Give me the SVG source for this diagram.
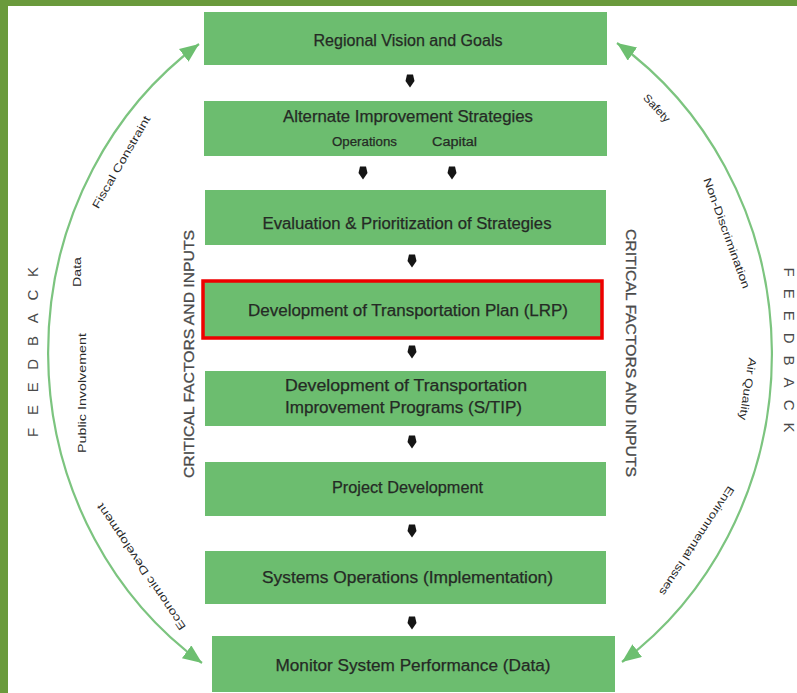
<svg xmlns="http://www.w3.org/2000/svg" width="797" height="693" viewBox="0 0 797 693">
<defs>
<style>
.box{fill:#6cbd6f}
.lbl{font-family:"Liberation Sans",Arial,sans-serif;font-size:16px;fill:#252a25;stroke:#252a25;stroke-width:0.25;text-anchor:middle;dominant-baseline:central}
.sub{font-size:12.5px}
.arc{fill:none;stroke:#7cc47f;stroke-width:2.2;marker-start:url(#ah);marker-end:url(#ah)}
.al{font-family:"Liberation Sans",Arial,sans-serif;font-size:11px;fill:#2a2a2a;text-anchor:middle;dominant-baseline:central}
.cf{font-family:"Liberation Sans",Arial,sans-serif;font-size:15px;fill:#4a4a4a;stroke:#4a4a4a;stroke-width:0.3;text-anchor:middle;dominant-baseline:central}
.fb{font-family:"Liberation Sans",Arial,sans-serif;font-size:15px;fill:#4a4a4a;text-anchor:middle;dominant-baseline:central}
.dn{fill:#151515}
</style>
<marker id="ah" markerUnits="userSpaceOnUse" markerWidth="20" markerHeight="18" refX="19" refY="8" orient="auto-start-reverse">
<path d="M0,0 L19,8 L0,16 Z" fill="#6dbf70"/>
</marker>
<path id="dar" d="M-3,-6.5 L3,-6.5 L4.5,0 L0,6.5 L-4.5,0 Z"/>
</defs>
<rect x="0" y="0" width="797" height="693" fill="#ffffff"/>
<rect x="0" y="0" width="797" height="6" fill="#6a9a3c"/>
<rect x="0" y="0" width="8" height="693" fill="#6a9a3c"/>

<g id="connectors">
<path class="arc" d="M202,663 A350 375 0 0 1 199,44"/>
<path class="arc" d="M617,43 A350 375 0 0 1 622,662"/>
<use href="#dar" class="dn" x="410" y="81"/>
<use href="#dar" class="dn" x="363" y="173"/>
<use href="#dar" class="dn" x="452" y="173"/>
<use href="#dar" class="dn" x="412" y="261"/>
<use href="#dar" class="dn" x="412" y="352"/>
<use href="#dar" class="dn" x="412" y="442"/>
<use href="#dar" class="dn" x="412" y="531"/>
<use href="#dar" class="dn" x="412" y="623"/>
</g>

<g id="n1"><rect class="box" x="204" y="12" width="403" height="53"/>
<text class="lbl" x="408" y="40" textLength="189" lengthAdjust="spacingAndGlyphs">Regional Vision and Goals</text></g>
<g id="n2"><rect class="box" x="204" y="101" width="403" height="55"/>
<text class="lbl" x="408" y="116" textLength="250" lengthAdjust="spacingAndGlyphs">Alternate Improvement Strategies</text>
<text class="lbl sub" x="364.5" y="142" textLength="65" lengthAdjust="spacingAndGlyphs">Operations</text>
<text class="lbl sub" x="454.5" y="142" textLength="45" lengthAdjust="spacingAndGlyphs">Capital</text></g>
<g id="n3"><rect class="box" x="205" y="190" width="401" height="55"/>
<text class="lbl" x="407" y="223" textLength="289" lengthAdjust="spacingAndGlyphs">Evaluation &amp; Prioritization of Strategies</text></g>
<g id="n4"><rect class="box" x="203" y="281" width="399" height="57" stroke="#ee0000" stroke-width="3.5"/>
<text class="lbl" x="408" y="310" textLength="320" lengthAdjust="spacingAndGlyphs">Development of Transportation Plan (LRP)</text></g>
<g id="n5"><rect class="box" x="205" y="371" width="401" height="55"/>
<text class="lbl" x="285" y="385" style="text-anchor:start" textLength="242" lengthAdjust="spacingAndGlyphs">Development of Transportation</text>
<text class="lbl" x="285" y="407" style="text-anchor:start" textLength="237" lengthAdjust="spacingAndGlyphs">Improvement Programs (S/TIP)</text></g>
<g id="n6"><rect class="box" x="205" y="462" width="401" height="54"/>
<text class="lbl" x="407.5" y="487" textLength="151" lengthAdjust="spacingAndGlyphs">Project Development</text></g>
<g id="n7"><rect class="box" x="205" y="551" width="401" height="53"/>
<text class="lbl" x="407.5" y="577" textLength="291" lengthAdjust="spacingAndGlyphs">Systems Operations (Implementation)</text></g>
<g id="n8"><rect class="box" x="212" y="636" width="403" height="56"/>
<text class="lbl" x="413" y="665" textLength="275" lengthAdjust="spacingAndGlyphs">Monitor System Performance (Data)</text></g>

<g id="side-labels">
<text class="cf" transform="translate(188,354) rotate(-90)" textLength="248" lengthAdjust="spacingAndGlyphs">CRITICAL FACTORS AND INPUTS</text>
<text class="cf" transform="translate(631,353) rotate(90)" textLength="248" lengthAdjust="spacingAndGlyphs">CRITICAL FACTORS AND INPUTS</text>
<text class="fb" transform="translate(32,352) rotate(-90)" textLength="170" lengthAdjust="spacing">FEEDBACK</text>
<text class="fb" transform="translate(789,350) rotate(90)" textLength="165" lengthAdjust="spacing">FEEDBACK</text>
</g>

<g id="arc-labels">
<text class="al" transform="translate(121,162) rotate(-60)" textLength="105" lengthAdjust="spacingAndGlyphs">Fiscal Constraint</text>
<text class="al" transform="translate(77,272) rotate(-90)" textLength="30" lengthAdjust="spacingAndGlyphs">Data</text>
<text class="al" transform="translate(82,393) rotate(-90)" textLength="120" lengthAdjust="spacingAndGlyphs">Public Involvement</text>
<text class="al" transform="translate(141,567) rotate(-124)" textLength="150" lengthAdjust="spacingAndGlyphs">Economic Development</text>
<text class="al" transform="translate(657,108) rotate(47)" textLength="34" lengthAdjust="spacingAndGlyphs">Safety</text>
<text class="al" transform="translate(727,233) rotate(70)" textLength="117" lengthAdjust="spacingAndGlyphs">Non-Discrimination</text>
<text class="al" transform="translate(748,389) rotate(99)" textLength="63" lengthAdjust="spacingAndGlyphs">Air Quality</text>
<text class="al" transform="translate(697,541) rotate(123)" textLength="128" lengthAdjust="spacingAndGlyphs">Environmental Issues</text>
</g>
</svg>
